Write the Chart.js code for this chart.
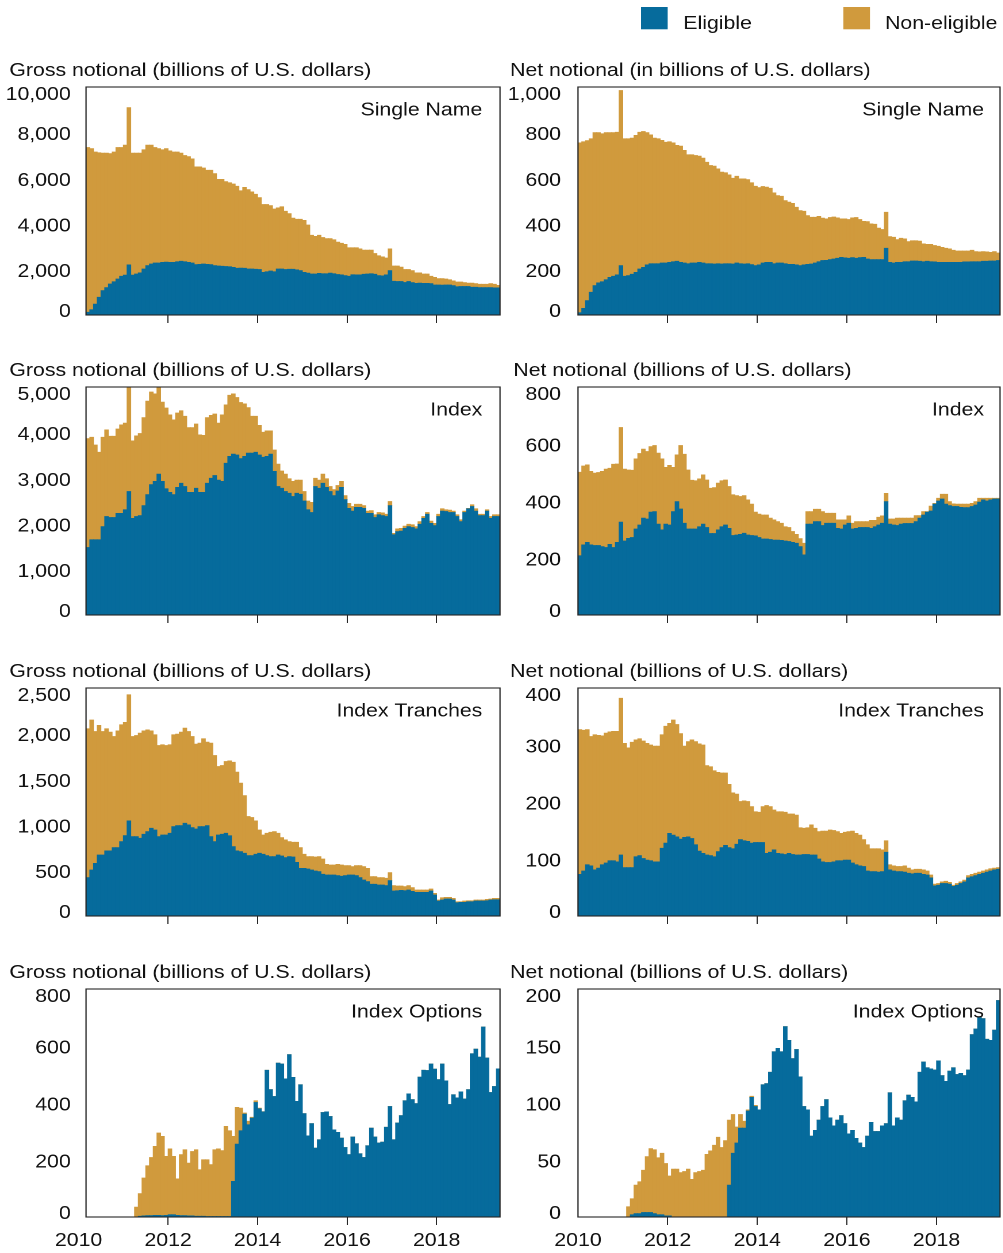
<!DOCTYPE html>
<html>
<head>
<meta charset="utf-8">
<script src="https://cdn.jsdelivr.net/npm/chart.js@4.4.0/dist/chart.umd.min.js"></script>
<style>
  html, body { margin: 0; padding: 0; background: #fff; }
  body { position: relative; width: 1003px; height: 1253px; overflow: hidden; }
  canvas { position: absolute; transform-origin: 0 0; }
</style>
</head>
<body>
<script>
// --- Categories (monthly) ---
function monthSpan(from, to) {
    const out = [];
    let [y, m] = from.split('-').map(Number);
    const [ey, em] = to.split('-').map(Number);
    while (y < ey || (y === ey && m <= em)) {
        out.push(y + '-' + String(m).padStart(2, '0'));
        m++;
        if (m > 12) { m = 1; y++; }
    }
    return out;
}
const leftMonths = monthSpan('2010-03', '2019-05');   // gross panels
const rightMonths = monthSpan('2010-01', '2019-05');  // net panels
const yearTicks = [2010, 2012, 2014, 2016, 2018];

// --- Series (billions of U.S. dollars). "Total" = eligible + non-eligible, i.e. top of the stack ---
const grossSingleTotal = [
    7350, 7300, 7150, 7120, 7100, 7100, 7080, 7150, 7350, 7350,
    7450, 9100, 7100, 7100, 7100, 7250, 7450, 7450, 7350, 7300,
    7250, 7300, 7200, 7150, 7150, 7100, 7000, 6950, 6850, 6500,
    6500, 6450, 6350, 6350, 6200, 5950, 5950, 5850, 5800, 5750,
    5650, 5450, 5600, 5500, 5400, 5300, 5150, 4850, 4850, 4800,
    4650, 4700, 4750, 4550, 4450, 4250, 4200, 4200, 4150, 3950,
    3500, 3450, 3500, 3400, 3350, 3350, 3300, 3200, 3150, 3100,
    2950, 2950, 2950, 2900, 2850, 2850, 2850, 2700, 2600, 2550,
    2500, 2900, 2150, 2150, 2100, 2000, 2000, 1950, 1850, 1850,
    1800, 1800, 1700, 1650, 1600, 1600, 1580, 1550, 1500, 1450,
    1450, 1420, 1400, 1400, 1380, 1350, 1350, 1350, 1380, 1350,
    1300
];
const grossSingleElig = [
    120, 230, 480, 780, 1070, 1200, 1360, 1460, 1580, 1700,
    1750, 2200, 1750, 1800, 1850, 2020, 2170, 2240, 2280, 2280,
    2310, 2320, 2310, 2310, 2340, 2360, 2340, 2310, 2280, 2210,
    2220, 2240, 2220, 2210, 2170, 2150, 2140, 2130, 2120, 2090,
    2050, 2060, 2050, 2020, 2020, 2010, 2000, 1870, 1900, 1930,
    1900, 2020, 2020, 2000, 2010, 2010, 1980, 1950, 1870, 1840,
    1800, 1800, 1830, 1810, 1810, 1840, 1810, 1780, 1760, 1730,
    1700, 1770, 1760, 1760, 1790, 1800, 1810, 1790, 1730, 1720,
    1760, 1950, 1480, 1470, 1470, 1430, 1470, 1420, 1390, 1400,
    1390, 1390, 1380, 1320, 1320, 1310, 1320, 1320, 1290, 1240,
    1250, 1250, 1250, 1220, 1220, 1200, 1200, 1200, 1200, 1190,
    1190
];
const netSingleTotal = [
    755, 760, 765, 773, 800, 800, 795, 800, 800, 800,
    802, 985, 773, 773, 776, 788, 802, 805, 800, 790,
    776, 773, 766, 758, 760, 755, 744, 741, 722, 703,
    703, 700, 697, 688, 670, 656, 653, 641, 627, 624,
    615, 600, 609, 597, 597, 594, 580, 565, 559, 564,
    561, 556, 536, 524, 521, 502, 495, 490, 473, 458,
    455, 436, 429, 429, 433, 425, 422, 428, 430, 426,
    422, 422, 419, 426, 428, 419, 411, 410, 400, 398,
    381, 375, 451, 344, 341, 331, 337, 334, 322, 326,
    326, 324, 312, 310, 310, 305, 302, 297, 293, 290,
    284, 281, 281, 281, 281, 284, 278, 277, 278, 277,
    275, 278, 272
];
const netSingleElig = [
    10, 29, 63, 100, 129, 141, 146, 155, 165, 170,
    176, 217, 170, 173, 179, 187, 202, 209, 220, 225,
    225, 225, 228, 228, 231, 234, 236, 231, 228, 225,
    228, 228, 231, 228, 225, 225, 224, 225, 224, 225,
    225, 224, 228, 225, 224, 225, 221, 217, 220, 228,
    231, 231, 225, 228, 228, 225, 222, 222, 220, 217,
    220, 222, 224, 228, 234, 239, 240, 243, 246, 249,
    253, 251, 249, 252, 249, 252, 253, 246, 243, 243,
    243, 243, 293, 231, 228, 231, 231, 234, 234, 237,
    237, 236, 234, 236, 234, 233, 231, 231, 231, 231,
    231, 231, 231, 233, 233, 234, 234, 234, 236, 236,
    237, 237, 239
];
const grossIndexTotal = [
    3870, 3900, 3730, 3570, 3900, 4060, 3920, 3920, 4080, 4170,
    4210, 5600, 3820, 3930, 3980, 4330, 4690, 4890, 4850, 5050,
    4670, 4540, 4390, 4280, 4430, 4480, 4360, 4110, 4110, 4190,
    3950, 3940, 4330, 4380, 4410, 4210, 4390, 4610, 4820, 4850,
    4770, 4660, 4630, 4550, 4360, 4360, 4160, 4010, 4040, 4040,
    3620, 3310, 3160, 3090, 2990, 2930, 2960, 2960, 2710, 2500,
    2470, 3000, 2960, 3090, 2990, 2820, 2750, 2840, 2930, 2620,
    2450, 2380, 2430, 2430, 2400, 2280, 2290, 2200, 2250, 2240,
    2210, 2490, 1790, 1890, 1900, 1950, 1990, 1980, 1940, 2050,
    2160, 2250, 2060, 2010, 2210, 2330, 2310, 2300, 2280, 2200,
    2090, 2280, 2340, 2420, 2330, 2210, 2210, 2310, 2160, 2200,
    2200
];
const grossIndexElig = [
    1480, 1650, 1650, 1650, 1940, 2160, 2140, 2140, 2230, 2230,
    2310, 2710, 2120, 2160, 2180, 2400, 2640, 2860, 2930, 3090,
    2930, 2770, 2690, 2640, 2800, 2890, 2820, 2690, 2690, 2780,
    2690, 2690, 2890, 3000, 3060, 2960, 2930, 3330, 3480, 3530,
    3510, 3430, 3480, 3550, 3550, 3570, 3510, 3460, 3480, 3530,
    3150, 2820, 2780, 2710, 2670, 2600, 2670, 2650, 2500, 2310,
    2250, 2820, 2780, 2890, 2800, 2710, 2620, 2720, 2800, 2530,
    2340, 2280, 2360, 2360, 2340, 2230, 2230, 2140, 2200, 2180,
    2160, 2400, 1760, 1830, 1840, 1900, 1940, 1920, 1890, 1990,
    2120, 2210, 2010, 1960, 2160, 2280, 2270, 2250, 2250, 2160,
    2050, 2250, 2330, 2380, 2280, 2180, 2180, 2280, 2120, 2160,
    2160
];
const netIndexTotal = [
    501, 523, 527, 504, 498, 500, 504, 512, 515, 529,
    530, 658, 512, 509, 508, 548, 567, 582, 574, 591,
    595, 568, 548, 518, 525, 518, 562, 595, 564, 509,
    473, 471, 478, 492, 474, 445, 447, 463, 471, 474,
    451, 422, 419, 416, 419, 404, 389, 361, 354, 351,
    351, 340, 334, 328, 322, 310, 307, 293, 283, 268,
    252, 363, 363, 371, 371, 363, 357, 357, 357, 334,
    334, 334, 348, 322, 328, 328, 328, 328, 332, 332,
    343, 348, 427, 337, 337, 340, 340, 340, 340, 340,
    349, 349, 363, 363, 382, 392, 410, 424, 424, 398,
    390, 389, 389, 389, 389, 392, 398, 410, 410, 410,
    410, 410, 410
];
const netIndexElig = [
    208, 246, 255, 246, 244, 244, 240, 237, 248, 237,
    255, 326, 260, 269, 272, 302, 316, 340, 337, 361,
    363, 319, 299, 319, 316, 363, 398, 372, 322, 302,
    302, 302, 310, 319, 307, 286, 286, 299, 310, 316,
    304, 279, 281, 283, 287, 281, 279, 278, 272, 267,
    267, 265, 263, 263, 262, 260, 258, 255, 252, 240,
    211, 319, 319, 328, 328, 314, 322, 322, 322, 304,
    302, 316, 322, 302, 304, 307, 307, 307, 304, 310,
    316, 322, 398, 319, 316, 314, 319, 321, 321, 321,
    328, 340, 351, 361, 365, 389, 400, 407, 389, 384,
    381, 381, 378, 377, 377, 381, 386, 396, 404, 400,
    404, 407, 407
];
const grossTrancheTotal = [
    2053, 2149, 2024, 2090, 2024, 2053, 2017, 1969, 2031, 2097,
    2123, 2427, 1969, 1980, 2006, 2031, 2042, 2031, 1988, 1870,
    1878, 1870, 1878, 1988, 1995, 2017, 2061, 2024, 1969, 1885,
    1896, 1944, 1907, 1896, 1761, 1640, 1651, 1695, 1702, 1687,
    1578, 1457, 1321, 1091, 1080, 1043, 944, 889, 908, 919,
    926, 908, 860, 835, 816, 809, 809, 750, 677, 652,
    652, 648, 652, 626, 567, 560, 560, 567, 560, 553,
    553, 542, 553, 553, 542, 523, 432, 432, 421, 421,
    414, 476, 333, 329, 329, 322, 333, 311, 286, 286,
    286, 286, 296, 249, 176, 201, 205, 205, 194, 157,
    157, 165, 168, 168, 176, 176, 176, 183, 187, 194,
    194
];
const grossTrancheElig = [
    421, 505, 578, 670, 670, 714, 714, 750, 750, 816,
    882, 1043, 871, 871, 853, 897, 926, 963, 944, 871,
    889, 889, 908, 981, 992, 992, 1018, 999, 970, 955,
    981, 981, 992, 871, 816, 889, 897, 908, 880, 761,
    714, 706, 688, 663, 663, 677, 688, 677, 663, 652,
    652, 670, 659, 641, 652, 648, 589, 523, 523, 516,
    505, 494, 487, 458, 450, 450, 450, 443, 436, 443,
    450, 450, 443, 421, 395, 377, 348, 348, 340, 340,
    333, 388, 275, 278, 282, 278, 286, 271, 260, 260,
    260, 260, 275, 231, 165, 176, 187, 187, 176, 146,
    150, 150, 157, 157, 165, 165, 165, 168, 176, 179,
    179
];
const netTrancheTotal = [
    327, 326, 327, 315, 318, 317, 316, 321, 323, 324,
    324, 382, 303, 295, 305, 309, 311, 307, 303, 300,
    298, 298, 318, 333, 338, 344, 336, 320, 298, 306,
    309, 306, 302, 300, 264, 262, 255, 252, 251, 251,
    231, 216, 214, 201, 202, 201, 192, 183, 182, 192,
    194, 192, 186, 183, 183, 182, 179, 179, 177, 155,
    154, 155, 160, 154, 148, 149, 149, 151, 150, 148,
    145, 147, 148, 149, 145, 142, 134, 125, 118, 118,
    118, 116, 132, 90, 88, 87, 87, 88, 84, 81,
    82, 82, 81, 79, 72, 56, 57, 60, 61, 59,
    54, 57, 60, 63, 71, 73, 75, 77, 79, 81,
    83, 84, 85
];
const netTrancheElig = [
    73, 79, 90, 88, 81, 84, 90, 93, 97, 97,
    95, 107, 85, 85, 85, 104, 106, 101, 98, 97,
    95, 95, 119, 128, 145, 142, 139, 135, 138, 139,
    136, 125, 114, 110, 107, 106, 104, 113, 120, 124,
    120, 118, 126, 134, 132, 131, 128, 129, 129, 129,
    110, 112, 116, 110, 109, 108, 110, 108, 107, 107,
    108, 108, 107, 107, 100, 95, 94, 94, 95, 97,
    97, 98, 98, 93, 90, 88, 87, 79, 78, 78,
    77, 78, 112, 81, 79, 78, 78, 77, 75, 74,
    75, 75, 73, 72, 67, 53, 54, 57, 57, 56,
    52, 54, 57, 60, 67, 69, 71, 73, 75, 77,
    79, 81, 82
];
const grossOptionTotal = [
    0, 0, 0, 0, 0, 0, 0, 0, 0, 0,
    0, 0, 0, 35, 82, 137, 180, 209, 248, 295,
    283, 213, 239, 213, 134, 219, 236, 189, 230, 236,
    166, 201, 201, 184, 236, 239, 233, 318, 303, 283,
    385, 382, 365, 336, 350, 408, 382, 370, 515, 447,
    423, 540, 537, 485, 570, 490, 406, 464, 363, 285,
    328, 242, 271, 367, 369, 353, 306, 297, 277, 244,
    219, 281, 257, 222, 209, 250, 312, 281, 260, 263,
    315, 388, 271, 330, 356, 408, 432, 412, 398, 491,
    515, 514, 537, 519, 482, 537, 478, 395, 429, 418,
    439, 414, 447, 573, 589, 561, 667, 558, 437, 458,
    520
];
const grossOptionElig = [
    0, 0, 0, 0, 0, 0, 0, 0, 0, 0,
    0, 0, 0, 0, 3, 4, 5, 5, 6, 6,
    5, 6, 8, 8, 6, 5, 5, 4, 4, 3,
    3, 3, 2, 2, 2, 2, 2, 2, 2, 125,
    256, 303, 361, 324, 347, 402, 380, 369, 515, 447,
    423, 540, 537, 485, 570, 490, 406, 464, 363, 285,
    328, 242, 271, 367, 369, 353, 306, 297, 277, 244,
    219, 281, 257, 222, 209, 250, 312, 281, 260, 263,
    315, 388, 271, 330, 356, 408, 432, 412, 398, 491,
    515, 514, 537, 519, 482, 537, 478, 395, 429, 418,
    439, 414, 447, 573, 589, 561, 667, 558, 437, 458,
    520
];
const netOptionTotal = [
    0, 0, 0, 0, 0, 0, 0, 0, 0, 0,
    0, 0, 0, 9, 16, 28, 31, 41, 53, 60,
    59, 52, 56, 47, 36, 42, 42, 39, 40, 42,
    33, 39, 40, 41, 55, 58, 63, 70, 61, 67,
    85, 90, 79, 90, 84, 94, 106, 98, 94, 116,
    117, 127, 145, 148, 145, 167, 155, 139, 147, 123,
    97, 94, 71, 76, 85, 97, 103, 87, 80, 85,
    89, 82, 73, 76, 69, 65, 61, 71, 83, 75,
    75, 80, 82, 109, 80, 87, 85, 102, 107, 105,
    101, 127, 136, 131, 130, 129, 137, 124, 119, 128,
    131, 125, 126, 124, 129, 160, 165, 175, 174, 156,
    155, 164, 190
];
const netOptionElig = [
    0, 0, 0, 0, 0, 0, 0, 0, 0, 0,
    0, 0, 0, 0, 2, 3, 3, 4, 4, 4,
    3, 2, 2, 1, 1, 0, 0, 0, 0, 0,
    0, 0, 0, 0, 0, 0, 0, 0, 0, 0,
    28, 56, 65, 78, 78, 93, 105, 97, 94, 116,
    117, 127, 145, 148, 145, 167, 155, 139, 147, 123,
    97, 94, 71, 76, 85, 97, 103, 87, 80, 85,
    89, 82, 73, 76, 69, 65, 61, 71, 83, 75,
    75, 80, 82, 109, 80, 87, 85, 102, 107, 105,
    101, 127, 136, 131, 130, 129, 137, 124, 119, 128,
    131, 125, 126, 124, 129, 160, 165, 175, 174, 156,
    155, 164, 190
];

// --- Look ---
const S = 1.15;                 // reference art is stretched horizontally
const FONT = "'Liberation Sans', Arial, Helvetica, sans-serif";
const FONT_SIZE = 18.5;
const ELIG_COLOR = '#066b9c';
const NON_COLOR = '#d09a3d';
const INK = '#111111';
const ROW_TOPS = [86.7, 387.3, 688.3, 989.3];   // page y of each plot frame
const TOP_PAD = 87;                             // canvas px above the plot
const COLS = [
    { left: 0,   width: 440, plotLeft: 74.8, plotRight: 434.8, tickPad: 13.3, nameInset: 15.4 },
    { left: 503, width: 435, plotLeft: 65.2, plotRight: 432.2, tickPad: 14.8, nameInset: 13.9 }
];

const panels = [
    { row: 0, col: 0, title: 'Gross notional (billions of U.S. dollars)', titleX: 8.1, name: 'Single Name', max: 10000, step: 2000, months: leftMonths, elig: grossSingleElig, total: grossSingleTotal },
    { row: 0, col: 1, title: 'Net notional (in billions of U.S. dollars)', titleX: 6.1, name: 'Single Name', max: 1000, step: 200, months: rightMonths, elig: netSingleElig, total: netSingleTotal, legend: true },
    { row: 1, col: 0, title: 'Gross notional (billions of U.S. dollars)', titleX: 8.1, name: 'Index', max: 5000, step: 1000, months: leftMonths, elig: grossIndexElig, total: grossIndexTotal },
    { row: 1, col: 1, title: 'Net notional (billions of U.S. dollars)', titleX: 9.0, name: 'Index', max: 800, step: 200, months: rightMonths, elig: netIndexElig, total: netIndexTotal },
    { row: 2, col: 0, title: 'Gross notional (billions of U.S. dollars)', titleX: 8.1, name: 'Index Tranches', max: 2500, step: 500, months: leftMonths, elig: grossTrancheElig, total: grossTrancheTotal },
    { row: 2, col: 1, title: 'Net notional (billions of U.S. dollars)', titleX: 6.1, name: 'Index Tranches', max: 400, step: 100, months: rightMonths, elig: netTrancheElig, total: netTrancheTotal },
    { row: 3, col: 0, title: 'Gross notional (billions of U.S. dollars)', titleX: 8.1, name: 'Index Options', max: 800, step: 200, months: leftMonths, elig: grossOptionElig, total: grossOptionTotal },
    { row: 3, col: 1, title: 'Net notional (billions of U.S. dollars)', titleX: 6.1, name: 'Index Options', max: 200, step: 50, months: rightMonths, elig: netOptionElig, total: netOptionTotal }
];

const monthCentre = s => +s.slice(0, 4) + (+s.slice(5, 7) - 0.5) / 12;

// frame, axis title above the plot and panel name inside it
function panelDeco(p, col) {
    return {
        id: 'panelDeco',
        afterDatasetsDraw(chart) {
            const { ctx, chartArea: a } = chart;
            ctx.save();
            ctx.strokeStyle = '#262626';
            ctx.lineWidth = 1.1;
            ctx.strokeRect(a.left, a.top, a.right - a.left, a.bottom - a.top);
            ctx.fillStyle = INK;
            ctx.font = FONT_SIZE + 'px ' + FONT;
            ctx.textBaseline = 'alphabetic';
            ctx.textAlign = 'left';
            ctx.fillText(p.title, p.titleX, a.top - 11);
            ctx.textAlign = 'right';
            ctx.fillText(p.name, a.right - col.nameInset, a.top + 28.5);
            ctx.restore();
        }
    };
}

// key at the top right of the page, built from the datasets
const keyLegend = {
    id: 'keyLegend',
    afterDraw(chart) {
        const { ctx } = chart;
        const boxX = [120, 295.9], textX = [156.8, 332.2];
        ctx.save();
        ctx.font = FONT_SIZE + 'px ' + FONT;
        ctx.textBaseline = 'alphabetic';
        ctx.textAlign = 'left';
        chart.data.datasets.forEach((ds, i) => {
            ctx.fillStyle = ds.backgroundColor;
            ctx.fillRect(boxX[i], 7, 23.2, 22.3);
            ctx.fillStyle = INK;
            ctx.fillText(ds.label, textX[i], 29);
        });
        ctx.restore();
    }
};

Chart.defaults.font.family = FONT;
Chart.defaults.font.size = FONT_SIZE;
Chart.defaults.color = INK;

panels.forEach(p => {
    const col = COLS[p.col];
    const canvas = document.createElement('canvas');
    canvas.width = col.width;
    canvas.height = TOP_PAD + 228 + 40;
    canvas.style.left = col.left + 'px';
    canvas.style.top = (ROW_TOPS[p.row] - TOP_PAD) + 'px';
    canvas.style.transform = 'scaleX(' + S + ')';
    document.body.appendChild(canvas);

    const xs = p.months.map(monthCentre);
    const nonElig = p.total.map((t, i) => Math.max(t - p.elig[i], 0));
    const isBottom = p.row === 3;

    const plugins = [panelDeco(p, col)];
    if (p.legend) plugins.push(keyLegend);

    new Chart(canvas, {
        type: 'bar',
        data: {
            labels: xs,
            datasets: [
                { label: 'Eligible', data: p.elig, backgroundColor: ELIG_COLOR, borderWidth: 0, barPercentage: 1, categoryPercentage: 1 },
                { label: 'Non-eligible', data: nonElig, backgroundColor: NON_COLOR, borderWidth: 0, barPercentage: 1, categoryPercentage: 1 }
            ]
        },
        options: {
            responsive: false,
            maintainAspectRatio: false,
            animation: false,
            devicePixelRatio: 2,
            layout: { padding: { top: TOP_PAD, left: 0, bottom: 0, right: col.width - col.plotRight } },
            plugins: { legend: { display: false }, tooltip: { enabled: false } },
            scales: {
                x: {
                    type: 'linear',
                    stacked: true,
                    offset: false,
                    bounds: 'data',
                    min: xs[0] - 1 / 24,
                    max: xs[xs.length - 1] + 1 / 24,
                    afterBuildTicks: s => { s.ticks = yearTicks.map(v => ({ value: v })); },
                    afterFit: s => { s.height = 40; },
                    border: { display: false },
                    grid: {
                        display: true, offset: false, drawOnChartArea: false, drawTicks: true, tickLength: 8, lineWidth: 1,
                        color: c => (c.tick && c.tick.value === 2010) ? 'rgba(0,0,0,0)' : '#262626'
                    },
                    ticks: { display: isBottom, autoSkip: false, maxRotation: 0, padding: 5, color: INK, callback: v => String(v) }
                },
                y: {
                    stacked: true,
                    min: 0,
                    max: p.max,
                    afterFit: s => { s.width = col.plotLeft; },
                    border: { display: false },
                    grid: { display: false, drawTicks: false },
                    ticks: {
                        stepSize: p.step,
                        padding: col.tickPad,
                        labelOffset: 2.5,
                        color: INK,
                        font: { size: FONT_SIZE, lineHeight: 0.6 },
                        callback: v => {
                            const t = v.toLocaleString('en-US');
                            if (v === p.max) return ['', t];
                            if (v === 0) return [t, ''];
                            return t;
                        }
                    }
                }
            }
        },
        plugins: plugins
    });
});
</script>
</body>
</html>
